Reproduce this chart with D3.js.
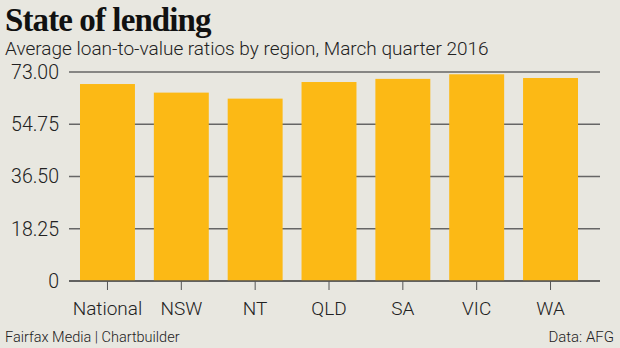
<!DOCTYPE html>
<html><head><meta charset="utf-8">
<script src="https://cdn.jsdelivr.net/npm/d3@7"></script>
<style>
html,body{margin:0;padding:0;background:#e8e7e0;}
svg{display:block;}
</style></head>
<body>
<script>
const categories = ["National","NSW","NT","QLD","SA","VIC","WA"];
const values = [68.8, 65.8, 63.7, 69.5, 70.6, 72.2, 70.9];
const tickValues = [0, 18.25, 36.5, 54.75, 73];
const tickLabels = ["0","18.25","36.50","54.75","73.00"];
const title = "State of lending";
const subtitle = "Average loan-to-value ratios by region, March quarter 2016";
const sourceLeft = "Fairfax Media | Chartbuilder";
const sourceRight = "Data: AFG";

const W = 620, H = 348;
const sans = "Roboto, 'Noto Sans', sans-serif";
const svg = d3.select("body").append("svg").attr("width", W).attr("height", H);
svg.append("rect").attr("width", W).attr("height", H).attr("fill", "#e8e7e0");

const x = d3.scaleBand().domain(categories).range([69, 589]).paddingInner(0.256).paddingOuter(0.149);
const y = d3.scaleLinear().domain([0, 73]).range([281, 72]);

// gridlines
svg.append("g").selectAll("line").data(tickValues).join("line")
  .attr("x1", 69).attr("x2", 600)
  .attr("y1", d => y(d)).attr("y2", d => y(d))
  .attr("stroke", "#666").attr("stroke-width", 1.3);

// bars
svg.append("g").selectAll("rect").data(values).join("rect")
  .attr("x", (d, i) => x(categories[i]))
  .attr("width", x.bandwidth())
  .attr("y", d => y(d))
  .attr("height", d => y(0) - y(d))
  .attr("fill", "#fcb915");

// zero axis line on top
svg.append("line").attr("x1", 69).attr("x2", 600).attr("y1", y(0)).attr("y2", y(0))
  .attr("stroke", "#555").attr("stroke-width", 1.3);

// y axis labels
svg.append("g").selectAll("text").data(tickValues).join("text")
  .attr("x", 59).attr("y", d => y(d)).attr("dy", "0.35em")
  .attr("text-anchor", "end")
  .attr("font-family", sans).attr("font-weight", 300).attr("font-size", 19.5).attr("fill", "#222")
  .text((d, i) => tickLabels[i]);

// x ticks and labels
const xg = svg.append("g");
xg.selectAll("line").data(categories).join("line")
  .attr("x1", d => x(d) + x.bandwidth()/2).attr("x2", d => x(d) + x.bandwidth()/2)
  .attr("y1", y(0)).attr("y2", y(0) + 9)
  .attr("stroke", "#555").attr("stroke-width", 1);
xg.selectAll("text").data(categories).join("text")
  .attr("x", d => x(d) + x.bandwidth()/2).attr("y", 315)
  .attr("text-anchor", "middle")
  .attr("font-family", sans).attr("font-weight", 300).attr("font-size", 19).attr("fill", "#222")
  .text(d => d);

// titles
svg.append("text").attr("x", 5).attr("y", 31)
  .attr("font-family", "'Liberation Serif', serif").attr("font-weight", "bold")
  .attr("font-size", 33).attr("fill", "#111").attr("letter-spacing", -0.9).text(title);
svg.append("text").attr("x", 5).attr("y", 55)
  .attr("font-family", sans).attr("font-weight", 300).attr("font-size", 19).attr("fill", "#222").text(subtitle);

// footer
svg.append("text").attr("x", 5).attr("y", 342)
  .attr("font-family", sans).attr("font-weight", 300).attr("font-size", 14.5).attr("fill", "#222").text(sourceLeft);
svg.append("text").attr("x", 614).attr("y", 342).attr("text-anchor", "end")
  .attr("font-family", sans).attr("font-weight", 300).attr("font-size", 15).attr("fill", "#222").text(sourceRight);
</script>
</body></html>
